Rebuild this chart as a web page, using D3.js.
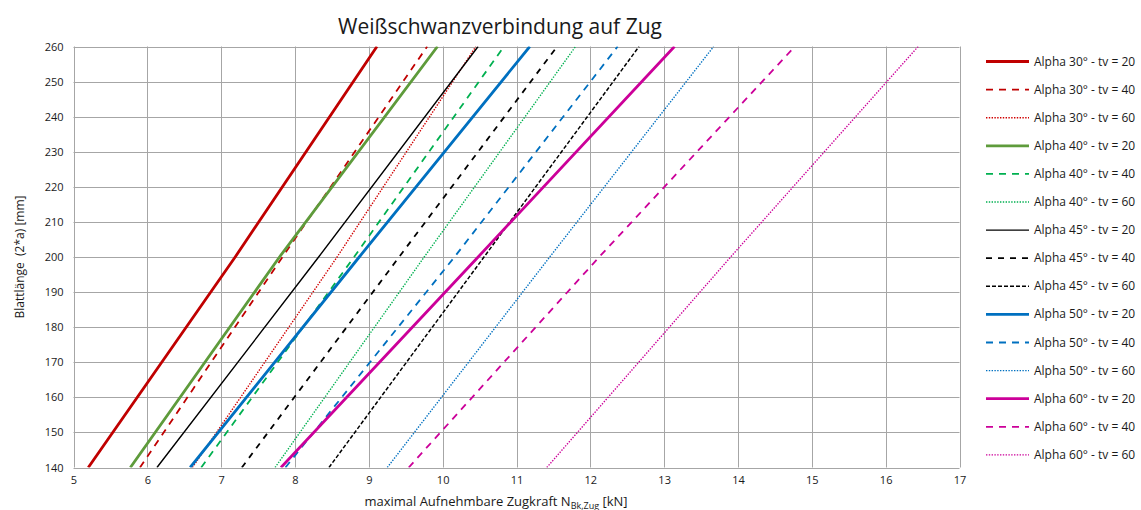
<!DOCTYPE html>
<html>
<head>
<meta charset="utf-8">
<script src="https://cdn.jsdelivr.net/npm/d3@7"></script>
<style>
  html, body { margin: 0; padding: 0; background: #fff; }
  svg text { font-family: "Open Sans", "Noto Sans", sans-serif; fill: #1a1a1a; }
</style>
</head>
<body>
<svg id="chart" width="1141" height="510"></svg>
<script>
// Blade length (2*a) in mm at which each curve is sampled
const bladeLength = [140, 200, 260];

// Tensile capacity N in kN for each angle / tv combination
const alpha30_tv20 = [5.20, 7.19, 9.11];
const alpha30_tv40 = [5.90, 7.83, 9.79];
const alpha30_tv60 = [6.61, 8.57, 10.45];
const alpha40_tv20 = [5.77, 7.79, 9.93];
const alpha40_tv40 = [6.73, 8.80, 10.83];
const alpha40_tv60 = [7.73, 9.75, 11.80];
const alpha45_tv20 = [6.13, 8.32, 10.48];
const alpha45_tv40 = [7.28, 9.41, 11.55];
const alpha45_tv60 = [8.46, 10.56, 12.66];
const alpha50_tv20 = [6.58, 8.87, 11.18];
const alpha50_tv40 = [7.87, 10.16, 12.37];
const alpha50_tv60 = [9.25, 11.45, 13.67];
const alpha60_tv20 = [7.81, 10.48, 13.14];
const alpha60_tv40 = [9.54, 12.12, 14.77];
const alpha60_tv60 = [11.41, 13.90, 16.44];

const seriesNames = [
  "Alpha 30° - tv = 20", "Alpha 30° - tv = 40", "Alpha 30° - tv = 60",
  "Alpha 40° - tv = 20", "Alpha 40° - tv = 40", "Alpha 40° - tv = 60",
  "Alpha 45° - tv = 20", "Alpha 45° - tv = 40", "Alpha 45° - tv = 60",
  "Alpha 50° - tv = 20", "Alpha 50° - tv = 40", "Alpha 50° - tv = 60",
  "Alpha 60° - tv = 20", "Alpha 60° - tv = 40", "Alpha 60° - tv = 60"
];
const seriesValues = [
  alpha30_tv20, alpha30_tv40, alpha30_tv60,
  alpha40_tv20, alpha40_tv40, alpha40_tv60,
  alpha45_tv20, alpha45_tv40, alpha45_tv60,
  alpha50_tv20, alpha50_tv40, alpha50_tv60,
  alpha60_tv20, alpha60_tv40, alpha60_tv60
];

const xTicks = [5, 6, 7, 8, 9, 10, 11, 12, 13, 14, 15, 16, 17];
const yTicks = [140, 150, 160, 170, 180, 190, 200, 210, 220, 230, 240, 250, 260];

const titleText = "Weißschwanzverbindung auf Zug";
const xTitleMain = "maximal Aufnehmbare Zugkraft N";
const xTitleSub = "Bk,Zug";
const xTitleEnd = " [kN]";
const yTitleText = "Blattlänge  (2*a) [mm]";

// Line styling per series
const angleColors = {
  "30": ["#c00000", "#c00000", "#d00000"],
  "40": ["#5e9b3b", "#00b050", "#00b050"],
  "45": ["#000000", "#000000", "#000000"],
  "50": ["#0070c0", "#0070c0", "#0070c0"],
  "60": ["#cc0099", "#cc0099", "#cc0099"]
};
function styleFor(i) {
  const angle = ["30", "40", "45", "50", "60"][Math.floor(i / 3)];
  const k = i % 3;
  const color = angleColors[angle][k];
  if (k === 0) return { color, width: angle === "45" ? 1.4 : 2.8, dash: null };
  if (k === 1) return { color, width: 1.8, dash: angle === "45" ? "6,6" : "7,6" };
  if (angle === "45") return { color, width: 1.5, dash: "4,2" };
  return { color, width: 1.4, dash: "1.4,1.4" };
}

const svg = d3.select("#chart");
const margin = { left: 73.5, right: 959.5, top: 46.5, bottom: 467.5 };

const x = d3.scaleLinear().domain([5, 17]).range([margin.left, margin.right]);
const y = d3.scaleLinear().domain([140, 260]).range([margin.bottom, margin.top]);

svg.append("defs").append("clipPath").attr("id", "plotClip")
  .append("rect")
  .attr("x", margin.left).attr("y", margin.top)
  .attr("width", margin.right - margin.left)
  .attr("height", margin.bottom - margin.top);

// Grid
const grid = svg.append("g");
grid.selectAll("line.v").data(xTicks).join("line")
  .attr("x1", d => Math.round(x(d)) + 0.5).attr("x2", d => Math.round(x(d)) + 0.5)
  .attr("y1", margin.top).attr("y2", margin.bottom)
  .attr("stroke", "#a6a6a6").attr("stroke-width", 1);
grid.selectAll("line.h").data(yTicks).join("line")
  .attr("y1", d => Math.round(y(d)) + 0.5).attr("y2", d => Math.round(y(d)) + 0.5)
  .attr("x1", margin.left).attr("x2", margin.right)
  .attr("stroke", "#a6a6a6").attr("stroke-width", 1);

// Axes (labels only; grid acts as axis lines)
const xAxis = d3.axisBottom(x).tickValues(xTicks).tickSize(0).tickPadding(9).tickFormat(d3.format("d"));
const gx = svg.append("g").attr("transform", `translate(0,${margin.bottom})`).call(xAxis);
gx.select(".domain").remove();
gx.selectAll("text").style("font-size", "11px").attr("fill", "#1a1a1a");

const yAxis = d3.axisLeft(y).tickValues(yTicks).tickSize(0).tickPadding(10).tickFormat(d3.format("d"));
const gy = svg.append("g").attr("transform", `translate(${margin.left},0)`).call(yAxis);
gy.select(".domain").remove();
gy.selectAll("text").style("font-size", "11px").attr("fill", "#1a1a1a");

// Series lines
const line = d3.line()
  .x(d => x(d[0]))
  .y(d => y(d[1]));

const plot = svg.append("g").attr("clip-path", "url(#plotClip)");
seriesValues.forEach((vals, i) => {
  const st = styleFor(i);
  const pts = vals.map((v, j) => [v, bladeLength[j]]);
  plot.append("path")
    .attr("d", line(pts))
    .attr("fill", "none")
    .attr("stroke", st.color)
    .attr("stroke-width", st.width)
    .attr("stroke-dasharray", st.dash)
    .attr("stroke-linecap", "butt");
});

// Legend
const legend = svg.append("g");
seriesNames.forEach((name, i) => {
  const st = styleFor(i);
  const ly = 61.5 + i * 28.1;
  legend.append("line")
    .attr("x1", 986).attr("x2", 1029)
    .attr("y1", ly).attr("y2", ly)
    .attr("stroke", st.color)
    .attr("stroke-width", st.width)
    .attr("stroke-dasharray", st.dash);
  legend.append("text")
    .attr("x", 1034).attr("y", ly + 4)
    .style("font-size", "12px")
    .text(name);
});

// Title
svg.append("text")
  .attr("x", 500).attr("y", 34)
  .attr("text-anchor", "middle")
  .style("font-size", "21px")
  .text(titleText);

// X axis title with subscript
const xt = svg.append("text")
  .attr("x", 496).attr("y", 506)
  .attr("text-anchor", "middle")
  .style("font-size", "13px");
xt.append("tspan").text(xTitleMain);
xt.append("tspan").attr("dy", 3).style("font-size", "9px").text(xTitleSub);
xt.append("tspan").attr("dy", -3).text(xTitleEnd);

// Y axis title
svg.append("text")
  .attr("transform", `translate(24,${(margin.top + margin.bottom) / 2}) rotate(-90)`)
  .attr("text-anchor", "middle")
  .style("font-size", "12px")
  .style("white-space", "pre")
  .text(yTitleText);
</script>
</body>
</html>
